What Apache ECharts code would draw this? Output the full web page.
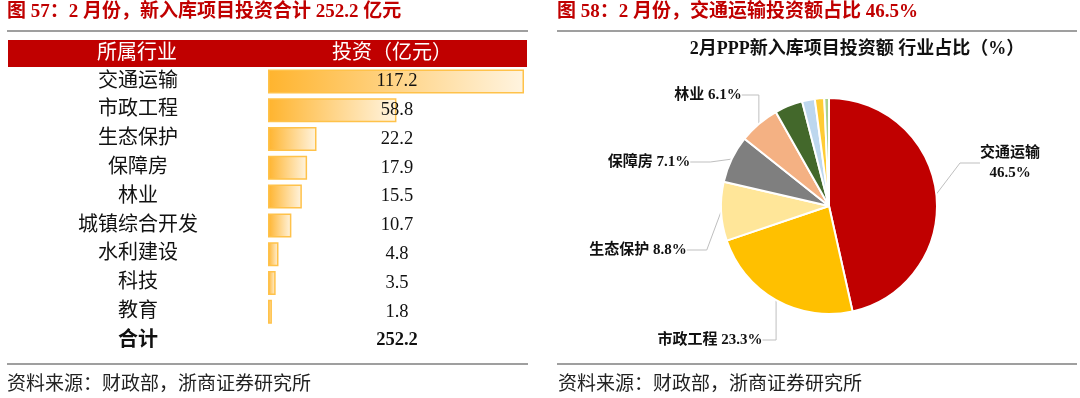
<!DOCTYPE html>
<html>
<head>
<meta charset="utf-8">
<script src="https://cdn.jsdelivr.net/npm/echarts@6/dist/echarts.min.js"></script>
<style>
  html, body { margin: 0; padding: 0; background: #fff; }
  #main { width: 1080px; height: 398px; }
</style>
</head>
<body>
<div id="main"></div>
<script>
// 行业及投资（亿元）
var industries = ['交通运输', '市政工程', '生态保护', '保障房', '林业', '城镇综合开发', '水利建设', '科技', '教育'];
var invest = [117.2, 58.8, 22.2, 17.9, 15.5, 10.7, 4.8, 3.5, 1.8];
var totalLabel = '合计';
var totalValue = 252.2;
// 饼图占比（%）
var shares = [46.5, 23.3, 8.8, 7.1, 6.1, 4.2, 1.9, 1.4, 0.7];
var pieColors = ['#C00000', '#FFC000', '#FFE699', '#7F7F7F', '#F4B183', '#43682B', '#BDD7EE', '#FFCC33', '#A9D18E'];

var cjk = '"Liberation Serif", "Noto Sans CJK SC", serif';
var red = '#C00000';

var rowNames = industries.concat([totalLabel]);
var rowValues = invest.map(function(v) { return v.toFixed(1); }).concat([totalValue.toFixed(1)]);
var barData = invest.concat(['-']);

var pieData = industries.map(function(name, i) {
	return {
		name: name,
		value: shares[i],
		itemStyle: { color: pieColors[i] },
		label: { show: i < 5 },
		labelLine: { show: i < 5 }
	};
});

// 标签位置（手动摆放，和原图一致）
var labelPos = [
	{ x: 1010, y: 163 },
	{ x: 710, y: 340 },
	{ x: 638, y: 250 },
	{ x: 649, y: 162 },
	{ x: 708, y: 95 }
];

var option = {
	animation: false,
	backgroundColor: '#fff',
	graphic: [
		// 左侧标题
		{ type: 'text', left: 7, top: 3, style: { text: '图 57：2 月份，新入库项目投资合计 252.2 亿元', fill: red, font: 'bold 19px ' + cjk } },
		{ type: 'line', shape: { x1: 7, y1: 31, x2: 528, y2: 31 }, style: { stroke: '#404040', lineWidth: 1.2 } },
		{ type: 'rect', shape: { x: 8, y: 40, width: 519, height: 27 }, style: { fill: red } },
		{ type: 'text', x: 137, y: 54, style: { text: '所属行业', fill: '#fff', font: '20px ' + cjk, align: 'center', verticalAlign: 'middle' } },
		{ type: 'text', x: 392, y: 54, style: { text: '投资（亿元）', fill: '#fff', font: '20px ' + cjk, align: 'center', verticalAlign: 'middle' } },
		{ type: 'line', shape: { x1: 7, y1: 364, x2: 528, y2: 364 }, style: { stroke: '#404040', lineWidth: 1.2 } },
		{ type: 'text', left: 7, top: 376, style: { text: '资料来源：财政部，浙商证券研究所', fill: '#222', font: '19px ' + cjk } },
		// 右侧标题
		{ type: 'text', left: 557, top: 3, style: { text: '图 58：2 月份，交通运输投资额占比 46.5%', fill: red, font: 'bold 19px ' + cjk } },
		{ type: 'line', shape: { x1: 557, y1: 31, x2: 1077, y2: 31 }, style: { stroke: '#404040', lineWidth: 1.2 } },
		{ type: 'text', x: 857, y: 49, style: { text: '2月PPP新入库项目投资额 行业占比（%）', fill: '#111', font: 'bold 18px ' + cjk, align: 'center', verticalAlign: 'middle' } },
		{ type: 'line', shape: { x1: 557, y1: 364, x2: 1077, y2: 364 }, style: { stroke: '#404040', lineWidth: 1.2 } },
		{ type: 'text', left: 558, top: 376, style: { text: '资料来源：财政部，浙商证券研究所', fill: '#222', font: '19px ' + cjk } }
	],
	grid: { left: 268, width: 256, top: 67, height: 288 },
	xAxis: {
		type: 'value', min: 0, max: 117.2,
		show: false
	},
	yAxis: [{
		type: 'category',
		data: rowNames,
		inverse: true,
		position: 'left',
		axisLine: { show: false },
		axisTick: { show: false },
		axisLabel: {
			margin: 130,
			align: 'center',
			color: '#111',
			fontSize: 20,
			fontFamily: cjk,
			formatter: function(v) {
				return v === totalLabel ? '{b|' + v + '}' : v;
			},
			rich: { b: { fontWeight: 'bold', fontSize: 20, fontFamily: cjk, color: '#111' } }
		}
	}, {
		type: 'category',
		data: rowValues,
		inverse: true,
		position: 'right',
		z: 10,
		axisLine: { show: false },
		axisTick: { show: false },
		axisLabel: {
			margin: -127,
			align: 'center',
			color: '#111',
			fontSize: 18.5,
			fontFamily: '"Liberation Serif", serif',
			formatter: function(v, i) {
				return i === rowValues.length - 1 ? '{b|' + v + '}' : v;
			},
			rich: { b: { fontWeight: 'bold', fontSize: 18.5, fontFamily: '"Liberation Serif", serif', color: '#111' } }
		}
	}],
	series: [{
		type: 'bar',
		data: barData,
		barWidth: 24,
		z: 1,
		itemStyle: {
			color: new echarts.graphic.LinearGradient(0, 0, 1, 0, [
				{ offset: 0, color: '#FFB42E' },
				{ offset: 1, color: '#FFF4E0' }
			]),
			borderColor: '#FFC24A',
			borderWidth: 1.5
		}
	}, {
		type: 'pie',
		center: [829, 206],
		radius: 108,
		startAngle: 90,
		clockwise: true,
		data: pieData,
		itemStyle: { borderColor: '#fff', borderWidth: 2 },
		label: {
			position: 'outside',
			color: '#111',
			fontWeight: 'bold',
			fontSize: 15,
			fontFamily: cjk,
			lineHeight: 20,
			formatter: function(p) {
				return p.dataIndex === 0 ? p.name + '\n' + p.value.toFixed(1) + '%' : p.name + ' ' + p.value.toFixed(1) + '%';
			}
		},
		labelLine: { length: 20, length2: 20, lineStyle: { color: '#BFBFBF', width: 1 } },
		labelLayout: function(params) {
			var p = labelPos[params.dataIndex];
			if (!p) return {};
			return { x: p.x, y: p.y, align: 'center', verticalAlign: 'middle' };
		}
	}]
};

var myChart = echarts.init(document.getElementById('main'));
myChart.setOption(option);
</script>
</body>
</html>
